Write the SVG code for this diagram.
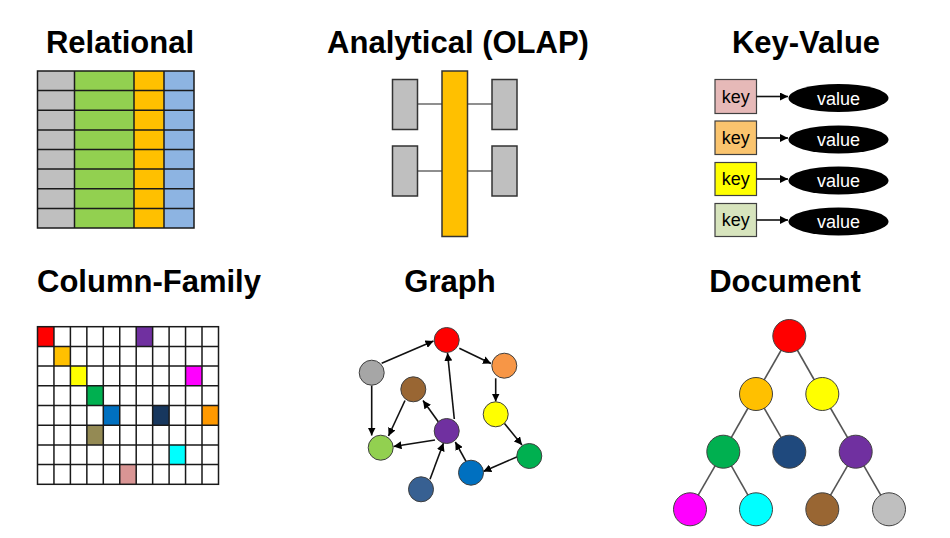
<svg xmlns="http://www.w3.org/2000/svg" width="950" height="538" viewBox="0 0 950 538">
<style>
.title{font-family:"Liberation Sans",Arial,sans-serif;font-weight:bold;font-size:31px;fill:#000;text-anchor:middle}
.cell{stroke:#1a1a1a;stroke-width:1.5}
.olap{fill:#BFBFBF;stroke:#333;stroke-width:1.5}
.kbox{stroke:#404040;stroke-width:1.2}
.ktxt{font-family:"Liberation Sans",Arial,sans-serif;font-size:18px;fill:#000;text-anchor:middle}
.vtxt{font-family:"Liberation Sans",Arial,sans-serif;font-size:18px;fill:#fff;text-anchor:middle}
.gn{stroke:#404040;stroke-width:1}
.edge{stroke:#111;stroke-width:1.6;fill:none;marker-end:url(#ah)}
.tree{stroke:#555;stroke-width:1.6}
.grid{stroke:#1a1a1a;stroke-width:1.5;fill:none}
</style>
<defs>
<marker id="ah" viewBox="0 0 10 10" refX="10" refY="5" markerWidth="8" markerHeight="8" markerUnits="userSpaceOnUse" orient="auto">
<path d="M0,0 L10,5 L0,10 z" fill="#000"/>
</marker>
</defs>

<!-- Titles -->
<g id="titles">
<text class="title" x="120" y="53">Relational</text>
<text class="title" x="458" y="53">Analytical (OLAP)</text>
<text class="title" x="806" y="53">Key-Value</text>
<text class="title" x="149" y="292">Column-Family</text>
<text class="title" x="450" y="292">Graph</text>
<text class="title" x="785" y="292">Document</text>
</g>

<!-- Relational -->
<g id="relational">
<rect x="37.5" y="71" width="37" height="157" fill="#BFBFBF"/>
<rect x="74.5" y="71" width="59.5" height="157" fill="#92D050"/>
<rect x="134" y="71" width="30" height="157" fill="#FFC000"/>
<rect x="164" y="71" width="30" height="157" fill="#8DB4E2"/>
<g class="grid">
<rect x="37.5" y="71" width="156.5" height="157"/>
<line x1="74.5" y1="71" x2="74.5" y2="228"/>
<line x1="134" y1="71" x2="134" y2="228"/>
<line x1="164" y1="71" x2="164" y2="228"/>
<line x1="37.5" y1="90.6" x2="194" y2="90.6"/>
<line x1="37.5" y1="110.3" x2="194" y2="110.3"/>
<line x1="37.5" y1="129.9" x2="194" y2="129.9"/>
<line x1="37.5" y1="149.5" x2="194" y2="149.5"/>
<line x1="37.5" y1="169.1" x2="194" y2="169.1"/>
<line x1="37.5" y1="188.8" x2="194" y2="188.8"/>
<line x1="37.5" y1="208.4" x2="194" y2="208.4"/>
</g>
</g>

<!-- OLAP -->
<g id="olap">
<line x1="417.5" y1="104" x2="442" y2="104" stroke="#444" stroke-width="1.2"/>
<line x1="467.5" y1="104" x2="492" y2="104" stroke="#444" stroke-width="1.2"/>
<line x1="417.5" y1="171" x2="442" y2="171" stroke="#444" stroke-width="1.2"/>
<line x1="467.5" y1="171" x2="492" y2="171" stroke="#444" stroke-width="1.2"/>
<rect class="olap" x="392.5" y="79.5" width="25" height="50"/>
<rect class="olap" x="392.5" y="146" width="25" height="50"/>
<rect class="olap" x="492" y="79.5" width="25" height="50"/>
<rect class="olap" x="492" y="146" width="25" height="50"/>
<rect x="442" y="71" width="25.5" height="165.5" fill="#FFC000" stroke="#333" stroke-width="1.5"/>
</g>

<!-- Key-Value -->
<g id="keyvalue">
<g id="kv1">
<rect class="kbox" x="715" y="79.5" width="41.5" height="34" fill="#E6B9B8"/>
<text class="ktxt" x="735.8" y="102.5">key</text>
<line class="edge" x1="756.5" y1="96.5" x2="788" y2="96.5"/>
<ellipse cx="838.5" cy="98" rx="50" ry="14" fill="#000"/>
<text class="vtxt" x="838.5" y="104.5">value</text>
</g>
<g id="kv2">
<rect class="kbox" x="715" y="121" width="41.5" height="33.5" fill="#FAC46E"/>
<text class="ktxt" x="735.8" y="143.5">key</text>
<line class="edge" x1="756.5" y1="138" x2="788" y2="138"/>
<ellipse cx="838.5" cy="139.5" rx="50" ry="14" fill="#000"/>
<text class="vtxt" x="838.5" y="146">value</text>
</g>
<g id="kv3">
<rect class="kbox" x="715" y="162.5" width="41.5" height="33" fill="#FFFF00"/>
<text class="ktxt" x="735.8" y="185">key</text>
<line class="edge" x1="756.5" y1="179" x2="788" y2="179"/>
<ellipse cx="838.5" cy="180.5" rx="50" ry="14" fill="#000"/>
<text class="vtxt" x="838.5" y="187">value</text>
</g>
<g id="kv4">
<rect class="kbox" x="715" y="203.5" width="41.5" height="33" fill="#D7E4BD"/>
<text class="ktxt" x="735.8" y="226">key</text>
<line class="edge" x1="756.5" y1="220" x2="788" y2="220"/>
<ellipse cx="838.5" cy="221.5" rx="50" ry="14" fill="#000"/>
<text class="vtxt" x="838.5" y="228">value</text>
</g>
</g>

<!-- Column-Family -->
<g id="columnfamily">
<rect x="37.5" y="326.7" width="181" height="157.6" fill="#fff"/>
<rect x="37.5" y="326.7" width="16.45" height="19.7" fill="#FF0000"/>
<rect x="136.2" y="326.7" width="16.45" height="19.7" fill="#7030A0"/>
<rect x="53.95" y="346.4" width="16.45" height="19.7" fill="#FFC000"/>
<rect x="70.4" y="366.1" width="16.45" height="19.7" fill="#FFFF00"/>
<rect x="185.55" y="366.1" width="16.45" height="19.7" fill="#FF00FF"/>
<rect x="86.85" y="385.8" width="16.45" height="19.7" fill="#00B050"/>
<rect x="103.3" y="405.5" width="16.45" height="19.7" fill="#0070C0"/>
<rect x="152.65" y="405.5" width="16.45" height="19.7" fill="#17375E"/>
<rect x="202" y="405.5" width="16.5" height="19.7" fill="#FF9900"/>
<rect x="86.85" y="425.2" width="16.45" height="19.7" fill="#948A54"/>
<rect x="169.1" y="444.9" width="16.45" height="19.7" fill="#00FFFF"/>
<rect x="119.75" y="464.6" width="16.45" height="19.7" fill="#D99594"/>
<g class="grid">
<rect x="37.5" y="326.7" width="181" height="157.6"/>
<path d="M53.95 326.7V484.3M70.4 326.7V484.3M86.85 326.7V484.3M103.3 326.7V484.3M119.75 326.7V484.3M136.2 326.7V484.3M152.65 326.7V484.3M169.1 326.7V484.3M185.55 326.7V484.3M202 326.7V484.3"/>
<path d="M37.5 346.4H218.5M37.5 366.1H218.5M37.5 385.8H218.5M37.5 405.5H218.5M37.5 425.2H218.5M37.5 444.9H218.5M37.5 464.6H218.5"/>
</g>
</g>

<!-- Graph connectors -->
<g id="graph-edges">
<line class="edge" x1="381.7" y1="363.3" x2="433.5" y2="341"/>
<line class="edge" x1="459.3" y1="348.3" x2="491" y2="363.5"/>
<line class="edge" x1="495.7" y1="378.3" x2="495.7" y2="401.5"/>
<line class="edge" x1="504.3" y1="423.3" x2="522" y2="445"/>
<line class="edge" x1="517.3" y1="456.7" x2="483.3" y2="471.5"/>
<line class="edge" x1="466.7" y1="462.7" x2="455.3" y2="442"/>
<line class="edge" x1="430" y1="479.3" x2="443.5" y2="443"/>
<line class="edge" x1="454.3" y1="419" x2="447.5" y2="353"/>
<line class="edge" x1="438.3" y1="421.7" x2="423" y2="400.5"/>
<line class="edge" x1="435" y1="440" x2="393.5" y2="446.5"/>
<line class="edge" x1="405" y1="400.5" x2="388.5" y2="436"/>
<line class="edge" x1="371.7" y1="385.5" x2="371.7" y2="435.5"/>
</g>

<!-- Graph nodes -->
<g id="graph-nodes">
<circle id="g-red" class="gn" cx="446.7" cy="340" r="12.5" fill="#FF0000"/>
<circle id="g-gray" class="gn" cx="371.7" cy="372.7" r="12.5" fill="#A6A6A6"/>
<circle id="g-orange" class="gn" cx="504.3" cy="365.7" r="12.5" fill="#F79646"/>
<circle id="g-brown" class="gn" cx="413.3" cy="389.3" r="12.5" fill="#996633"/>
<circle id="g-yellow" class="gn" cx="495.7" cy="414.3" r="12.5" fill="#FFFF00"/>
<circle id="g-purple" class="gn" cx="446.7" cy="431" r="12.5" fill="#7030A0"/>
<circle id="g-lgreen" class="gn" cx="380.7" cy="447.7" r="12.5" fill="#92D050"/>
<circle id="g-dgreen" class="gn" cx="529.3" cy="456" r="12.5" fill="#00B050"/>
<circle id="g-blue" class="gn" cx="471" cy="472.7" r="12.5" fill="#0070C0"/>
<circle id="g-steel" class="gn" cx="421" cy="489.3" r="12.5" fill="#376092"/>
</g>

<!-- Document connectors -->
<g id="doc-edges" class="tree">
<line x1="789.3" y1="336" x2="756" y2="394"/>
<line x1="789.3" y1="336" x2="822.3" y2="394"/>
<line x1="756" y1="394" x2="723.3" y2="451.7"/>
<line x1="756" y1="394" x2="789.3" y2="451.7"/>
<line x1="822.3" y1="394" x2="855.7" y2="451.7"/>
<line x1="723.3" y1="451.7" x2="690" y2="509.3"/>
<line x1="723.3" y1="451.7" x2="756" y2="509.3"/>
<line x1="855.7" y1="451.7" x2="822.3" y2="509.3"/>
<line x1="855.7" y1="451.7" x2="889" y2="509.3"/>
</g>

<!-- Document nodes -->
<g id="doc-nodes">
<circle id="d-red" class="gn" cx="789.3" cy="336" r="16.5" fill="#FF0000"/>
<circle id="d-orange" class="gn" cx="756" cy="394" r="16.5" fill="#FFC000"/>
<circle id="d-yellow" class="gn" cx="822.3" cy="394" r="16.5" fill="#FFFF00"/>
<circle id="d-green" class="gn" cx="723.3" cy="451.7" r="16.5" fill="#00B050"/>
<circle id="d-navy" class="gn" cx="789.3" cy="451.7" r="16.5" fill="#1F497D"/>
<circle id="d-purple" class="gn" cx="855.7" cy="451.7" r="16.5" fill="#7030A0"/>
<circle id="d-magenta" class="gn" cx="690" cy="509.3" r="16.5" fill="#FF00FF"/>
<circle id="d-cyan" class="gn" cx="756" cy="509.3" r="16.5" fill="#00FFFF"/>
<circle id="d-brown" class="gn" cx="822.3" cy="509.3" r="16.5" fill="#996633"/>
<circle id="d-gray" class="gn" cx="889" cy="509.3" r="16.5" fill="#BFBFBF"/>
</g>
</svg>
